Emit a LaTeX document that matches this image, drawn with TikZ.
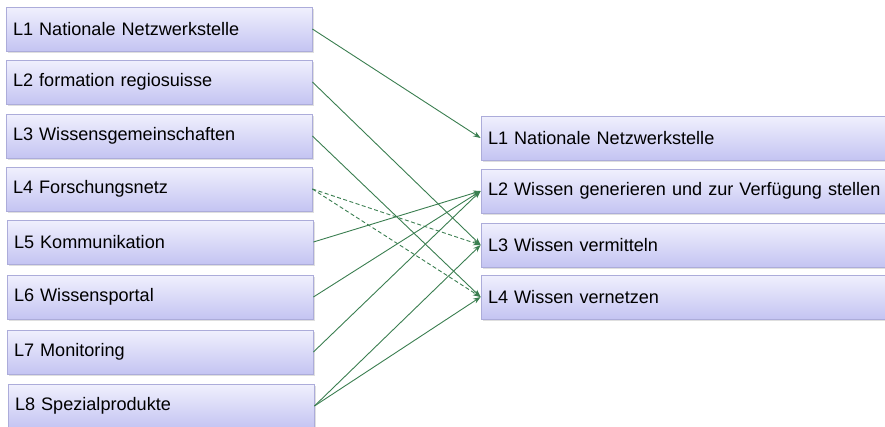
\documentclass[tikz,border=0pt]{standalone}
\usepackage{fontspec}
\setmainfont{Liberation Sans}
\usepackage{tikz}
\usetikzlibrary{arrows.meta, shadows}
\definecolor{boxtop}{RGB}{240,240,253}
\definecolor{boxbot}{RGB}{196,196,242}
\definecolor{boxline}{RGB}{172,172,218}
\definecolor{linkgreen}{RGB}{58,126,80}

\begin{document}
\begin{tikzpicture}[x=1pt, y=-1pt,
  lbox/.style={draw=boxline, top color=boxtop, bottom color=boxbot, line width=0.8pt,
    drop shadow={opacity=0.25, shadow xshift=1.5pt, shadow yshift=-2pt},
    minimum height=44pt, inner xsep=7pt, align=left,
    font=\fontsize{18.1}{22}\selectfont},
  left/.style={lbox, text width=292pt},
  right/.style={lbox, text width=400pt},
  link/.style={draw=linkgreen, line width=0.9pt, -{Stealth[length=7.5pt,width=5.5pt]}},
  maybe/.style={link, dash pattern=on 4pt off 2.5pt}]
\useasboundingbox (0,0) rectangle (885,426);
% linke Seite
\node[left] (l1) at (159,29) {L1 Nationale Netzwerkstelle};
\node[left] (l2) at (159,82) {L2 formation regiosuisse};
\node[left] (l3) at (159,136) {L3 Wissensgemeinschaften};
\node[left] (l4) at (159,189) {L4 Forschungsnetz};
\node[left] (l5) at (160,242) {L5 Kommunikation};
\node[left] (l6) at (160,297) {L6 Wissensportal};
\node[left] (l7) at (160,352) {L7 Monitoring};
\node[left] (l8) at (161,406) {L8 Spezialprodukte};
% rechte Seite
\node[right] (r1) at (688,138) {L1 Nationale Netzwerkstelle};
\node[right] (r2) at (688,191) {L2 Wissen generieren und zur Verfügung stellen};
\node[right] (r3) at (688,245) {L3 Wissen vermitteln};
\node[right] (r4) at (688,297) {L4 Wissen vernetzen};
% Pfeile
\draw[link] (l1.east) -- (r1.west);
\draw[link] (l2.east) -- (r3.west);
\draw[link] (l3.east) -- (r4.west);
\draw[maybe] (l4.east) -- (r3.west);
\draw[maybe] (l4.east) -- (r4.west);
\draw[link] (l5.east) -- (r2.west);
\draw[link] (l6.east) -- (r2.west);
\draw[link] (l7.east) -- (r2.west);
\draw[link] (l8.east) -- (r3.west);
\draw[link] (l8.east) -- (r4.west);
\end{tikzpicture}
\end{document}
